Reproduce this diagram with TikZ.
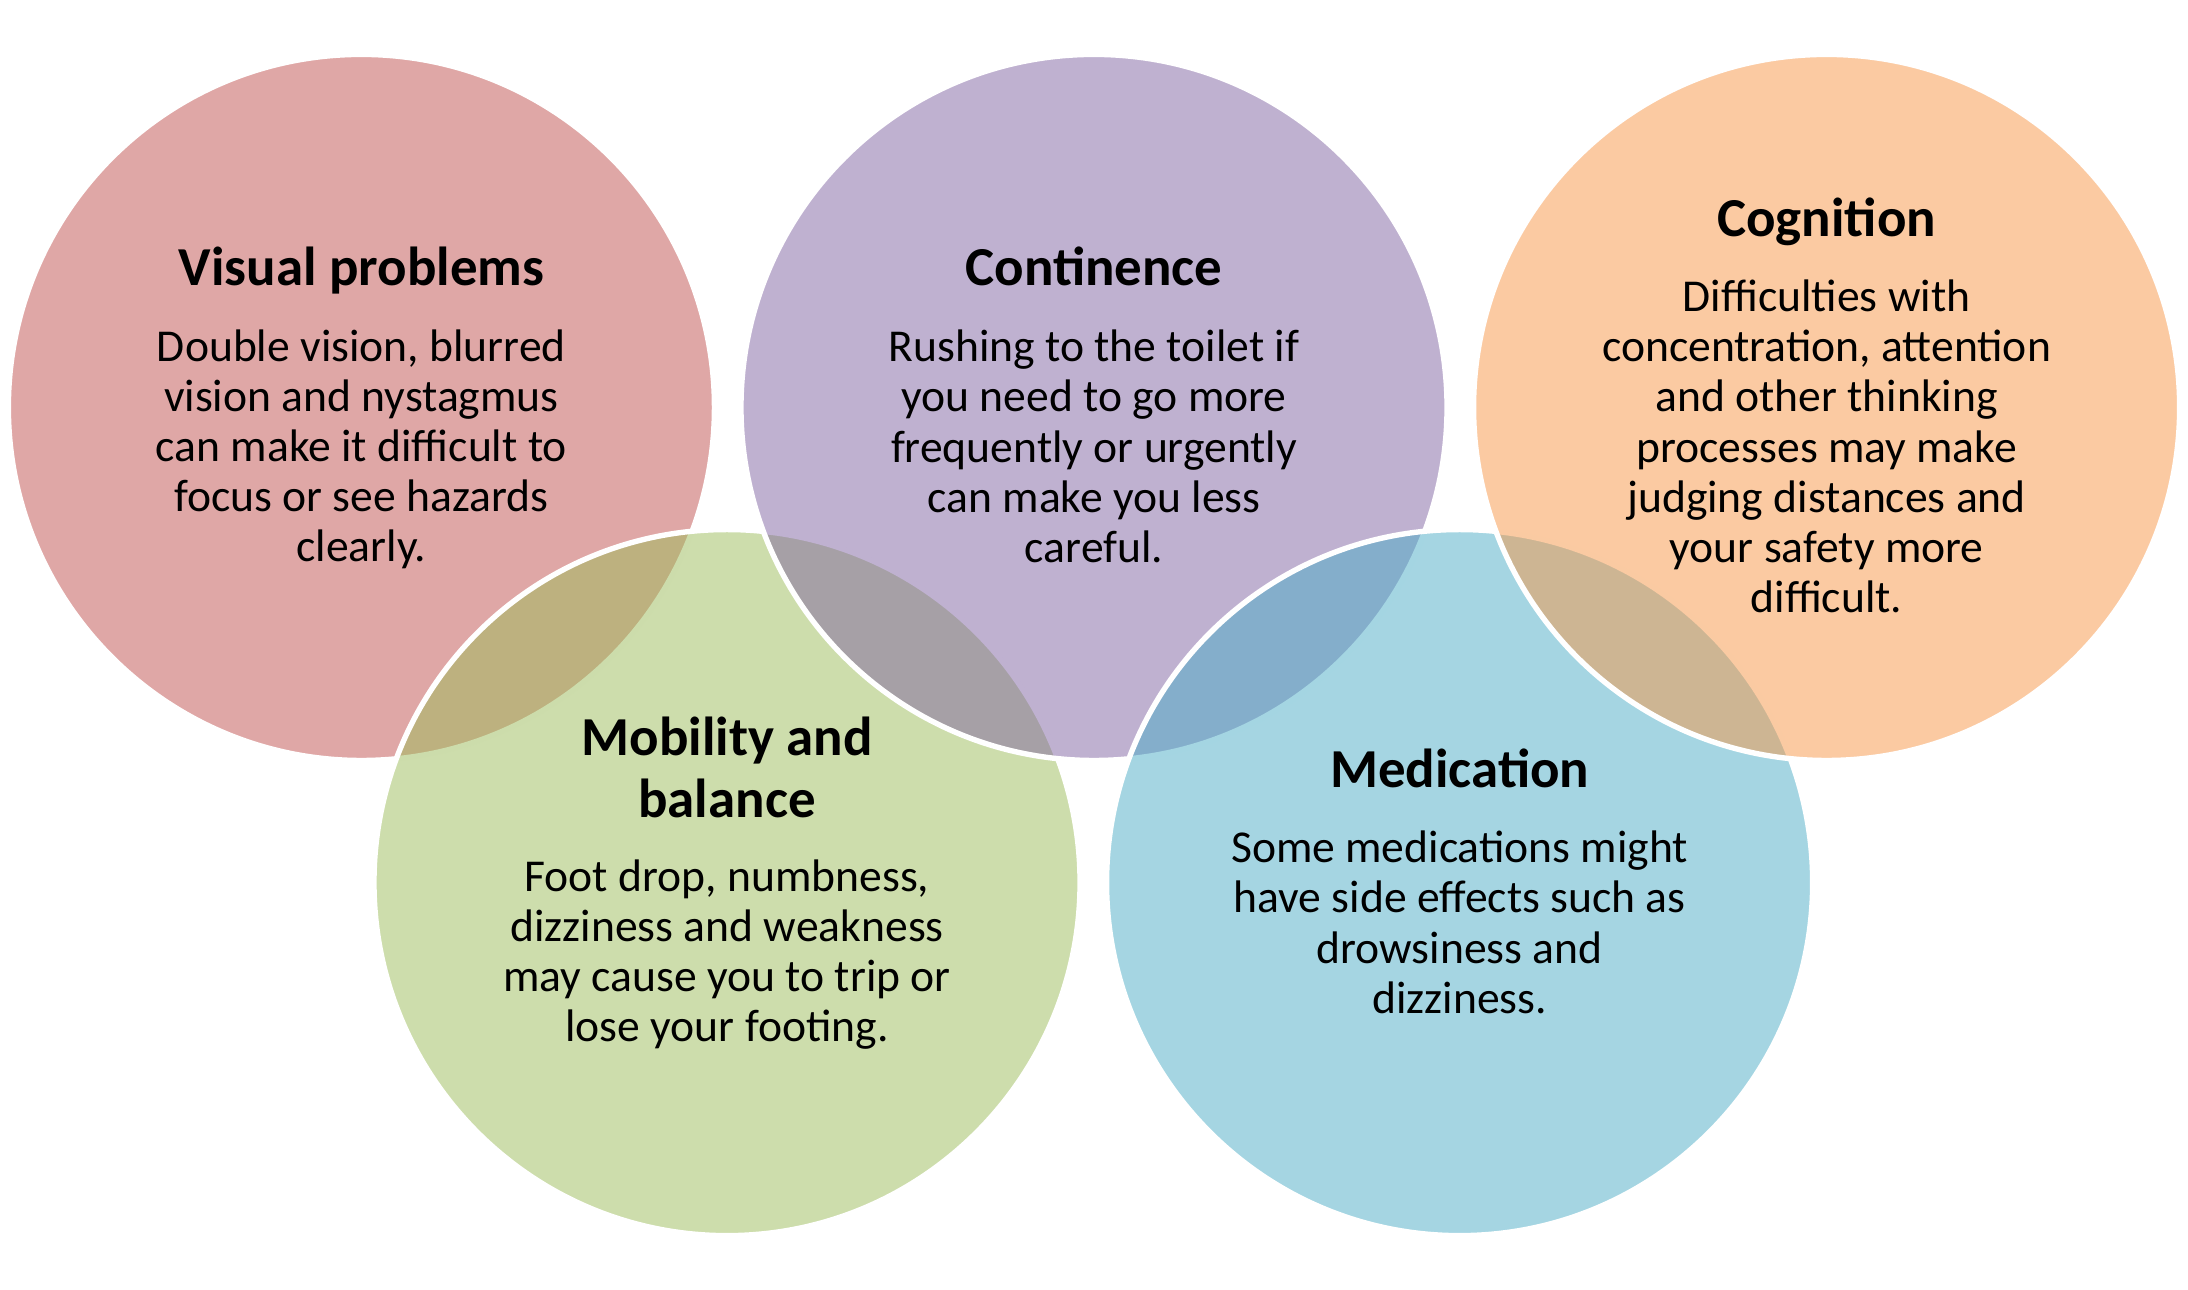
\documentclass[tikz,border=0pt]{standalone}
\usepackage{fontspec}
\setmainfont{Carlito}
\usepackage{tikz}
\usetikzlibrary{positioning}
\definecolor{vispink}{HTML}{C0504D}
\definecolor{mobgreen}{HTML}{9BBB59}
\definecolor{conpurple}{HTML}{8064A2}
\definecolor{medaqua}{HTML}{4BACC6}
\definecolor{cogorange}{HTML}{F79646}
\newcommand{\headfont}{\fontsize{11.2}{12.5}\selectfont\bfseries}
\newcommand{\bodyfont}{\fontsize{9.3}{10.24}\selectfont}

\begin{document}
\begin{tikzpicture}[
		ring/.style={circle, minimum size=5.06cm, inner sep=0pt,
			draw=white, line width=1.1pt, fill opacity=0.5},
		head/.style={font=\headfont, align=center, inner sep=0pt},
		body/.style={font=\bodyfont, align=center, inner sep=0pt}
		]
		\useasboundingbox (0,0) rectangle (15.68,9.24);
		
		% rings, back to front
		\node [ring, fill=vispink] (visual) at (2.59,6.32) {};
		\node [ring, fill=mobgreen] (mobil) at (5.21,2.915) {};
		\node [ring, fill=conpurple] (contin) at (7.84,6.32) {};
		\node [ring, fill=medaqua] (medic) at (10.46,2.915) {};
		\node [ring, fill=cogorange] (cognit) at (13.09,6.32) {};
		
		% texts
		\node [head] (visual-t) at ([yshift=0.98cm]visual.center) {Visual problems};
		\node [body] (visual-b) at ([yshift=-0.30cm]visual.center)
		{Double vision, blurred\\vision and nystagmus\\can make it difficult to\\focus or see hazards\\clearly.};
		
		\node [head] (contin-t) at ([yshift=1.01cm]contin.center) {Continence};
		\node [body] (contin-b) at ([yshift=-0.28cm]contin.center)
		{Rushing to the toilet if\\you need to go more\\frequently or urgently\\can make you less\\careful.};
		
		\node [head] (cognit-t) at ([yshift=1.33cm]cognit.center) {Cognition};
		\node [body] (cognit-b) at ([yshift=-0.28cm]cognit.center)
		{Difficulties with\\concentration, attention\\and other thinking\\processes may make\\judging distances and\\your safety more\\difficult.};
		
		\node [head] (mobil-t) at ([yshift=0.825cm]mobil.center) {Mobility and\\balance};
		\node [body] (mobil-b) at ([yshift=-0.515cm]mobil.center)
		{Foot drop, numbness,\\dizziness and weakness\\may cause you to trip or\\lose your footing.};
		
		\node [head] (medic-t) at ([yshift=0.815cm]medic.center) {Medication};
		\node [body] (medic-b) at ([yshift=-0.285cm]medic.center)
		{Some medications might\\have side effects such as\\drowsiness and\\dizziness.};
\end{tikzpicture}
\end{document}
